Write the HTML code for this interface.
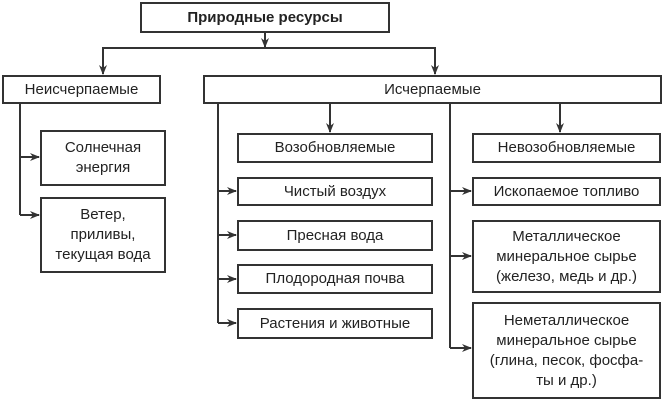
<!DOCTYPE html>
<html><head><meta charset="utf-8"><style>
body{margin:0;width:664px;height:405px;background:#fff;position:relative;overflow:hidden;font-family:"Liberation Sans","DejaVu Sans",sans-serif;color:#222}
.b{position:absolute;border:2px solid #333;box-sizing:border-box;display:flex;align-items:center;justify-content:center;text-align:center;font-size:15px;line-height:20px}
svg{position:absolute;left:0;top:0}
</style></head><body>
<svg width="664" height="405">
<defs><marker id="a" markerWidth="10" markerHeight="8" refX="9" refY="4" orient="auto" markerUnits="userSpaceOnUse"><path d="M0,0 L10,4 L0,8 L3,4 z" fill="#333"/></marker></defs>
<g stroke="#333" stroke-width="2" fill="none">
<line x1="265" y1="32" x2="265" y2="47" marker-end="url(#a)"/>
<polyline points="103,63 103,48 435,48 435,63"/>
<line x1="103" y1="48" x2="103" y2="74" marker-end="url(#a)"/>
<line x1="435" y1="48" x2="435" y2="74" marker-end="url(#a)"/>
<line x1="20" y1="103" x2="20" y2="215"/>
<line x1="20" y1="157" x2="39" y2="157" marker-end="url(#a)"/>
<line x1="20" y1="215" x2="39" y2="215" marker-end="url(#a)"/>
<line x1="218" y1="103" x2="218" y2="323"/>
<line x1="450" y1="103" x2="450" y2="348"/>
<line x1="330" y1="103" x2="330" y2="132" marker-end="url(#a)"/>
<line x1="560" y1="103" x2="560" y2="132" marker-end="url(#a)"/>
<line x1="218" y1="191" x2="236" y2="191" marker-end="url(#a)"/>
<line x1="218" y1="235" x2="236" y2="235" marker-end="url(#a)"/>
<line x1="218" y1="279" x2="236" y2="279" marker-end="url(#a)"/>
<line x1="218" y1="323" x2="236" y2="323" marker-end="url(#a)"/>
<line x1="450" y1="191" x2="471" y2="191" marker-end="url(#a)"/>
<line x1="450" y1="256" x2="471" y2="256" marker-end="url(#a)"/>
<line x1="450" y1="348" x2="471" y2="348" marker-end="url(#a)"/>
</g></svg>
<div class="b" style="left:140px;top:2px;width:250px;height:31px;font-weight:bold">Природные ресурсы</div>
<div class="b" style="left:2px;top:75px;width:159px;height:29px">Неисчерпаемые</div>
<div class="b" style="left:203px;top:75px;width:459px;height:29px">Исчерпаемые</div>
<div class="b" style="left:40px;top:130px;width:126px;height:56px">Солнечная<br>энергия</div>
<div class="b" style="left:40px;top:197px;width:126px;height:76px">Ветер,<br>приливы,<br>текущая вода</div>
<div class="b" style="left:237px;top:133px;width:196px;height:30px">Возобновляемые</div>
<div class="b" style="left:237px;top:177px;width:196px;height:29px">Чистый воздух</div>
<div class="b" style="left:237px;top:220px;width:196px;height:31px">Пресная вода</div>
<div class="b" style="left:237px;top:264px;width:196px;height:30px">Плодородная почва</div>
<div class="b" style="left:237px;top:308px;width:196px;height:31px">Растения и животные</div>
<div class="b" style="left:472px;top:133px;width:189px;height:30px">Невозобновляемые</div>
<div class="b" style="left:472px;top:177px;width:189px;height:29px">Ископаемое топливо</div>
<div class="b" style="left:472px;top:220px;width:189px;height:73px">Металлическое<br>минеральное сырье<br>(железо, медь и др.)</div>
<div class="b" style="left:472px;top:302px;width:189px;height:97px">Неметаллическое<br>минеральное сырье<br>(глина, песок, фосфа-<br>ты и др.)</div>
</body></html>
